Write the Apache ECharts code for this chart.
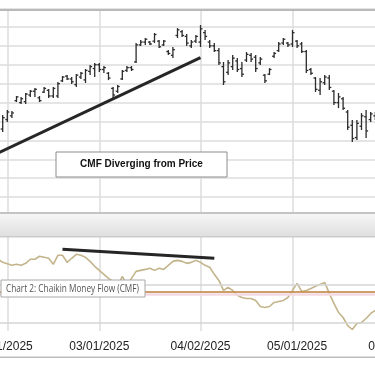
<!DOCTYPE html>
<html><head><meta charset="utf-8">
<script src="https://cdn.jsdelivr.net/npm/echarts@6/dist/echarts.min.js"></script>
<style>html,body{margin:0;padding:0;background:#fff;overflow:hidden}#c{width:375px;height:366px}</style>
</head><body><div id="c"></div>
<script>
// ---- categories (trading days) ----
const dates = ['01/30/2025','01/31/2025','02/03/2025','02/04/2025','02/05/2025','02/06/2025','02/07/2025','02/10/2025','02/11/2025','02/12/2025',
'02/13/2025','02/14/2025','02/17/2025','02/18/2025','02/19/2025','02/20/2025','02/21/2025','02/24/2025','02/25/2025','02/26/2025',
'02/27/2025','02/28/2025','03/03/2025','03/04/2025','03/05/2025','03/06/2025','03/07/2025','03/10/2025','03/11/2025','03/12/2025',
'03/13/2025','03/14/2025','03/17/2025','03/18/2025','03/19/2025','03/20/2025','03/21/2025','03/24/2025','03/25/2025','03/26/2025',
'03/27/2025','03/28/2025','03/31/2025','04/01/2025','04/02/2025','04/03/2025','04/04/2025','04/07/2025','04/08/2025','04/09/2025',
'04/10/2025','04/11/2025','04/14/2025','04/15/2025','04/16/2025','04/17/2025','04/21/2025','04/22/2025','04/23/2025','04/24/2025',
'04/25/2025','04/28/2025','04/29/2025','04/30/2025','05/01/2025','05/02/2025','05/05/2025','05/06/2025','05/07/2025','05/08/2025',
'05/09/2025','05/12/2025','05/13/2025','05/14/2025','05/15/2025','05/16/2025','05/19/2025','05/20/2025','05/21/2025','05/22/2025',
'05/23/2025','05/27/2025','05/28/2025','05/29/2025','05/30/2025','06/02/2025','06/03/2025','06/04/2025'];

// ---- vertical grid lines and tick labels ----
const gridDates  = ['02/03/2025','03/03/2025','04/02/2025','05/01/2025'];
const labelDates = ['01/31/2025','03/03/2025','04/02/2025','05/02/2025','06/04/2025'];
const tickLabels = ['02/01/2025','03/01/2025','04/02/2025','05/01/2025','06/02/2025'];

// ---- price OHLC ----
const open = ['-',49.2,50.2,50.6,52.2,52.0,52.1,52.8,53.2,52.5,
53.1,53.3,52.7,52.7,54.3,54.8,54.5,53.9,54.7,54.4,
55.3,55.6,56.0,55.5,55.1,53.5,53.2,54.5,55.4,55.7,
56.3,58.1,58.4,58.4,58.5,58.5,58.1,57.4,57.0,59.1,
59.5,59.0,58.0,58.5,58.4,59.4,58.4,58.0,57.5,55.8,
55.2,55.8,56.4,55.6,56.5,57.0,56.8,56.2,54.9,55.0,
56.9,57.5,58.3,58.3,58.2,58.5,58.2,57.4,55.5,54.6,
53.3,54.1,54.6,53.2,52.0,52.4,51.0,49.6,48.3,49.5,
50.5,50.2,50.6];
const high = ['-',50.68,51.21,51.11,52.69,52.59,53.01,53.33,53.54,52.69,
53.64,53.43,53.64,54.17,54.81,54.91,54.70,55.02,55.23,55.55,
55.97,56.18,56.18,55.87,55.23,53.64,53.86,55.44,55.87,55.87,
58.30,58.62,58.83,58.51,59.36,58.62,58.62,57.56,57.88,59.88,
59.67,59.25,58.62,59.14,60.20,59.67,58.62,58.30,57.77,56.29,
56.50,57.03,56.71,56.29,57.35,57.24,57.03,56.82,55.02,55.65,
57.35,58.40,58.83,58.40,59.67,58.62,58.40,57.56,55.65,54.70,
54.60,54.91,54.91,53.33,53.01,52.59,51.21,50.15,50.15,50.89,
51.21,51.00,51.00];
const low = ['-',48.88,49.94,50.37,52.06,51.85,51.85,52.59,52.59,52.06,
53.01,52.48,52.48,52.48,54.17,54.38,53.96,53.64,54.49,54.07,
54.91,54.70,55.23,55.13,54.38,52.48,53.01,54.38,55.23,55.34,
56.18,57.98,58.09,58.09,58.30,57.77,57.98,57.03,56.71,58.83,
58.94,57.98,57.77,58.30,57.88,58.62,57.77,57.35,55.97,53.86,
54.91,55.44,55.23,54.70,56.29,56.29,55.23,55.97,54.07,54.91,
56.71,57.35,58.09,57.88,57.88,57.77,57.24,55.13,54.91,53.12,
52.80,53.86,53.33,51.74,51.42,51.21,49.10,47.83,48.04,49.10,
48.25,49.94,50.15];
const close = ['-',50.4,51.0,50.9,52.6,52.4,52.9,53.2,53.4,52.2,
53.5,52.7,53.5,54.0,54.7,54.5,54.2,54.9,55.1,55.4,
55.8,56.0,55.5,55.7,54.6,52.8,53.7,55.3,55.7,55.5,
58.1,58.4,58.7,58.2,59.2,57.9,58.5,57.2,57.6,59.7,
59.1,58.3,58.4,59.0,59.8,59.0,58.0,57.5,56.2,54.2,
56.2,56.7,55.5,55.0,57.1,56.6,55.6,56.6,54.3,55.5,
57.2,58.2,58.7,58.1,59.4,58.0,57.4,55.4,55.1,53.4,
54.2,54.7,53.6,52.0,52.6,51.4,49.4,48.2,49.8,50.6,
49.0,50.8,50.8];

// ---- Chaikin Money Flow ----
const cmf = [0.26,0.235,0.223,0.211,0.219,0.211,0.227,0.26,0.26,0.284,
0.276,0.268,0.219,0.292,0.292,0.235,0.268,0.3,0.292,0.276,
0.243,0.203,0.17,0.138,0.105,0.081,0.041,0.122,0.057,0.105,
0.162,0.17,0.178,0.187,0.17,0.187,0.178,0.211,0.243,0.251,
0.243,0.227,0.235,0.251,0.235,0.211,0.195,0.138,0.089,0.008,
0.032,0.008,-0.032,-0.049,-0.057,-0.057,-0.073,-0.122,-0.13,-0.122,
-0.089,-0.081,-0.073,-0.049,0.008,0.065,0.0,0.008,0.024,0.041,
0.057,0.073,-0.016,-0.097,-0.17,-0.211,-0.276,-0.308,-0.26,-0.251,
-0.219,-0.178,-0.154];
const cmfZero = 0;
const cmfGuides = [0.05, -0.25];

// ---- trend annotations ----
const priceTrend = [['01/30/2025', 46.66], ['04/02/2025', 56.76]];
const cmfTrend = [['02/19/2025', 0.341], ['04/07/2025', 0.268]];
const noteText = 'CMF Diverging from Price';
const panelTitle = 'Chart 2: Chaikin Money Flow (CMF)';

const ohlc = dates.map((d, i) => (high[i] === undefined || high[i] === '-') ? null : [i, open[i], high[i], low[i], close[i]]).filter(Boolean);

const isGrid = (idx, val) => gridDates.indexOf(val) >= 0;
const isLabel = (idx, val) => labelDates.indexOf(val) >= 0;
const gridColor = '#dcdcdc';
const L = -1.9, R = -23.3;

// fit the panel title into its box width
const titleFont = '11.5px "Open Sans", sans-serif';
const mctx = document.createElement('canvas').getContext('2d');
mctx.font = titleFont;
const titleScale = 133 / mctx.measureText(panelTitle).width;

const chart = echarts.init(document.getElementById('c'), null, {renderer: 'canvas'});
chart.setOption({
  animation: false,
  backgroundColor: '#fff',
  grid: [
    {left: L, right: R, top: 9, bottom: 150, outerBoundsMode: 'none', containLabel: false},
    {left: L, right: R, top: 237, bottom: 35, outerBoundsMode: 'none', containLabel: false}
  ],
  xAxis: [
    {type: 'category', gridIndex: 0, data: dates, boundaryGap: false,
     axisLine: {show: false}, axisTick: {show: false}, axisLabel: {show: false},
     splitLine: {show: true, interval: isGrid, lineStyle: {color: gridColor, width: 1.5}}},
    {type: 'category', gridIndex: 1, data: dates, boundaryGap: false,
     axisLine: {show: true, lineStyle: {color: '#cfcfcf', width: 1.5}}, axisTick: {show: false},
     axisLabel: {show: true, interval: isLabel, margin: 10, color: '#222', fontFamily: 'Liberation Sans, Arial, sans-serif', fontSize: 12,
       hideOverlap: false, formatter: v => tickLabels[labelDates.indexOf(v)]},
     splitLine: {show: true, interval: isGrid, lineStyle: {color: gridColor, width: 1.5}}}
  ],
  yAxis: [
    {type: 'value', gridIndex: 0, min: 40, max: 61.9, interval: 2,
     axisLine: {show: false}, axisTick: {show: false}, axisLabel: {show: false},
     splitLine: {show: true, lineStyle: {color: gridColor, width: 1.5}}},
    {type: 'value', gridIndex: 1, min: -0.32, max: 0.44,
     axisLine: {show: false}, axisTick: {show: false}, axisLabel: {show: false},
     splitLine: {show: false}}
  ],
  series: [
    {type: 'custom', xAxisIndex: 0, yAxisIndex: 0, data: ohlc, encode: {x: 0, y: [1, 2, 3, 4]},
     renderItem: function (params, api) {
       const i = api.value(0);
       const o = api.coord([i, api.value(1)]);
       const h = api.coord([i, api.value(2)]);
       const l = api.coord([i, api.value(3)]);
       const c = api.coord([i, api.value(4)]);
       const st = {stroke: '#2b2b2b', lineWidth: 1.3};
       return {type: 'group', children: [
         {type: 'line', shape: {x1: h[0], y1: h[1], x2: l[0], y2: l[1]}, style: st},
         {type: 'line', shape: {x1: o[0] - 2, y1: o[1], x2: o[0], y2: o[1]}, style: st},
         {type: 'line', shape: {x1: c[0], y1: c[1], x2: c[0] + 2, y2: c[1]}, style: st}
       ]};
     }},
    {type: 'line', xAxisIndex: 0, yAxisIndex: 0, data: priceTrend, symbol: 'none',
     lineStyle: {color: '#262626', width: 3}, z: 5},
    {type: 'line', xAxisIndex: 1, yAxisIndex: 1, data: cmf, symbol: 'none',
     lineStyle: {color: '#c3b48a', width: 1.6},
     markLine: {silent: true, symbol: 'none', label: {show: false},
       data: [
         ...cmfGuides.map(v => ({yAxis: v, lineStyle: {color: '#d4d4d4', width: 1.5, type: 'solid'}})),
         {yAxis: cmfZero - 0.02, lineStyle: {color: '#f4dbe3', width: 2.5, type: 'solid'}},
         {yAxis: cmfZero, lineStyle: {color: '#c98a45', width: 1.5, type: 'solid'}}
       ]}},
    {type: 'line', xAxisIndex: 1, yAxisIndex: 1, data: cmfTrend, symbol: 'none',
     lineStyle: {color: '#262626', width: 3}, z: 5}
  ],
  graphic: [
    {type: 'rect', z: 100, shape: {x: 0, y: 9, width: 375, height: 2}, style: {fill: '#b9b9b9'}},
    {type: 'rect', z: 100, shape: {x: 0, y: 212, width: 375, height: 2}, style: {fill: '#c4c4c4'}},
    {type: 'rect', z: 100, shape: {x: 0, y: 214, width: 375, height: 23},
     style: {fill: new echarts.graphic.LinearGradient(0, 0, 0, 1, [{offset: 0, color: '#f6f6f6'}, {offset: 1, color: '#dedede'}])}},
    {type: 'rect', z: 100, shape: {x: 0, y: 236, width: 375, height: 1.5}, style: {fill: '#cbcbcb'}},
    {type: 'rect', z: 100, shape: {x: 0, y: 356.5, width: 375, height: 1.5}, style: {fill: '#bdbdbd'}},
    {type: 'rect', z: 100, shape: {x: 56, y: 152, width: 171, height: 25}, style: {fill: '#fff', stroke: '#8c8c8c', lineWidth: 1}},
    {type: 'text', z: 101, x: 141.5, y: 164.5, style: {text: noteText, fill: '#111', font: 'bold 10px "Liberation Sans", Arial, sans-serif', align: 'center', verticalAlign: 'middle'}},
    {type: 'rect', z: 100, shape: {x: 1, y: 280, width: 144, height: 17}, style: {fill: '#fff', stroke: '#a8a8a8', lineWidth: 1}},
    {type: 'text', z: 101, x: 72.5, y: 288.5, scaleX: titleScale, style: {text: panelTitle, fill: '#555', font: titleFont, align: 'center', verticalAlign: 'middle'}}
  ]
});
</script>
</body></html>
